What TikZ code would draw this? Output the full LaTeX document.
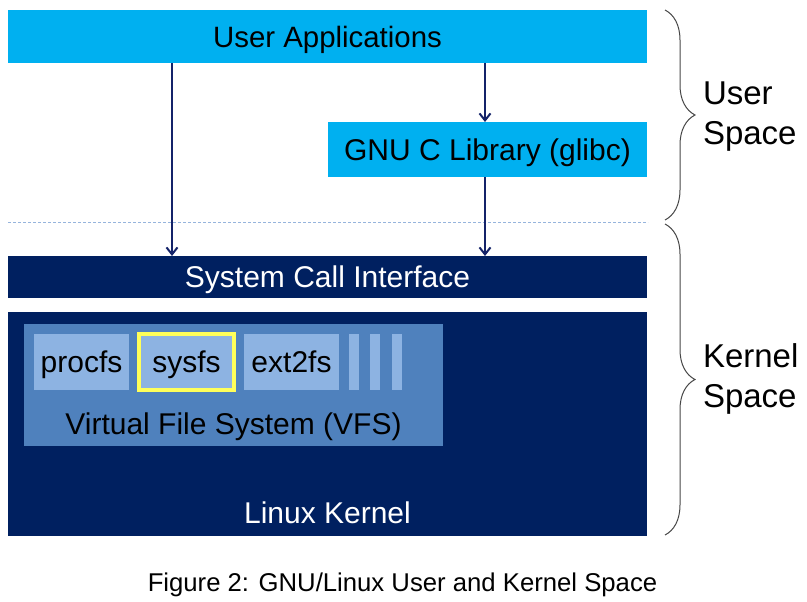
\documentclass[tikz,border=0pt]{standalone}
\usepackage{fontspec}
\setmainfont{Liberation Sans}
\usetikzlibrary{arrows.meta,decorations.pathreplacing}
\definecolor{ucyan}{RGB}{0,176,240}
\definecolor{knavy}{RGB}{0,32,96}
\definecolor{arrnavy}{RGB}{20,35,105}
\definecolor{vfsblue}{RGB}{79,129,189}
\definecolor{fsblue}{RGB}{141,179,226}
\definecolor{syel}{RGB}{255,255,90}
\definecolor{dashblue}{RGB}{150,180,220}
\definecolor{bracegray}{RGB}{70,70,70}
\newcommand\myfsA{\fontsize{30}{35}\selectfont}
\newcommand\myfsU{\fontsize{29.4}{35}\selectfont}
\newcommand\myfsB{\fontsize{33}{40}\selectfont}
\newcommand\myfsC{\fontsize{25.7}{30}\selectfont}
\begin{document}
\begin{tikzpicture}[x=1pt,y=-1pt,
  box/.style={rectangle, inner sep=0pt, outer sep=0pt, font=\myfsA, text height=21.5pt, text depth=0pt},
  ubox/.style={box, fill=ucyan, text=black},
  kbox/.style={box, fill=knavy, text=white},
  fsbox/.style={box, fill=fsblue, text=black},
  lbl/.style={inner sep=0pt, outer sep=0pt, font=\myfsA, text height=21.5pt, text depth=0pt},
  sidelbl/.style={inner sep=0pt, outer sep=0pt, font=\myfsB, align=left, text depth=0pt, anchor=west},
  arr/.style={draw=arrnavy, line width=2pt, -{Straight Barb[length=7pt,width=11pt,line width=2pt]}},
  dashline/.style={draw=dashblue, line width=1pt, dash pattern=on 3pt off 2pt},
  bracestyle/.style={draw=bracegray, line width=1pt, decorate, decoration={brace, amplitude=30pt}}
]
\useasboundingbox (0,0) rectangle (807,602);

% user space
\node[ubox, font=\myfsU, minimum width=639pt, minimum height=53pt] (ua) at (327.5,36.5) {User Applications};
\node[ubox, minimum width=319pt, minimum height=55pt] (glibc) at (487.5,149.5) {GNU C Library (glibc)};

% separator
\coordinate (dl) at (8,222);
\coordinate (dr) at (648,222);
\draw[dashline] (dl) -- (dr);

% kernel space
\node[kbox, minimum width=639pt, minimum height=42pt] (sci) at (327.5,277) {System Call Interface};
\node[kbox, minimum width=639pt, minimum height=224pt] (kernel) at (327.5,424) {};
\node[lbl, text=white] (klabel) at (327.5,512.5) {Linux Kernel};

\node[box, fill=vfsblue, minimum width=419pt, minimum height=122pt] (vfs) at (233.5,384.5) {};
\node[fsbox, minimum width=95pt, minimum height=56pt] (procfs) at (81.5,362) {procfs};
\node[fsbox, draw=syel, line width=3.2pt, minimum width=95pt, minimum height=56pt] (sysfs) at (186.5,362) {sysfs};
\node[fsbox, minimum width=95pt, minimum height=56pt] (ext2fs) at (291.5,362) {ext2fs};
\node[fsbox, minimum width=10pt, minimum height=56pt] (bar1) at (354,362) {};
\node[fsbox, minimum width=10pt, minimum height=56pt] (bar2) at (375,362) {};
\node[fsbox, minimum width=10pt, minimum height=56pt] (bar3) at (397,362) {};
\node[lbl, text=black] (vfslabel) at (233.5,423.5) {Virtual File System (VFS)};

% arrows
\coordinate (xl) at (172,0);
\coordinate (xr) at (485,0);
\draw[arr] (xl |- ua.south) -- (xl |- sci.north);
\draw[arr] (xr |- ua.south) -- (xr |- glibc.north);
\draw[arr] (xr |- glibc.south) -- (xr |- sci.north);

% braces
\coordinate (ub1) at (665,10);
\coordinate (ub2) at (665,220);
\coordinate (kb1) at (665,224);
\coordinate (kb2) at (665,535);
\draw[bracestyle] (ub1) -- (ub2);
\draw[bracestyle] (kb1) -- (kb2);
\node[sidelbl] (ulabel) at (703,113) {User\\Space};
\node[sidelbl] (klbl) at (703,376) {Kernel\\Space};

% caption
\node[inner sep=0pt, font=\myfsC, text height=18.4pt, text depth=0pt] (caption) at (402.5,582.5) {Figure 2: GNU/Linux User and Kernel Space};
\end{tikzpicture}
\end{document}
